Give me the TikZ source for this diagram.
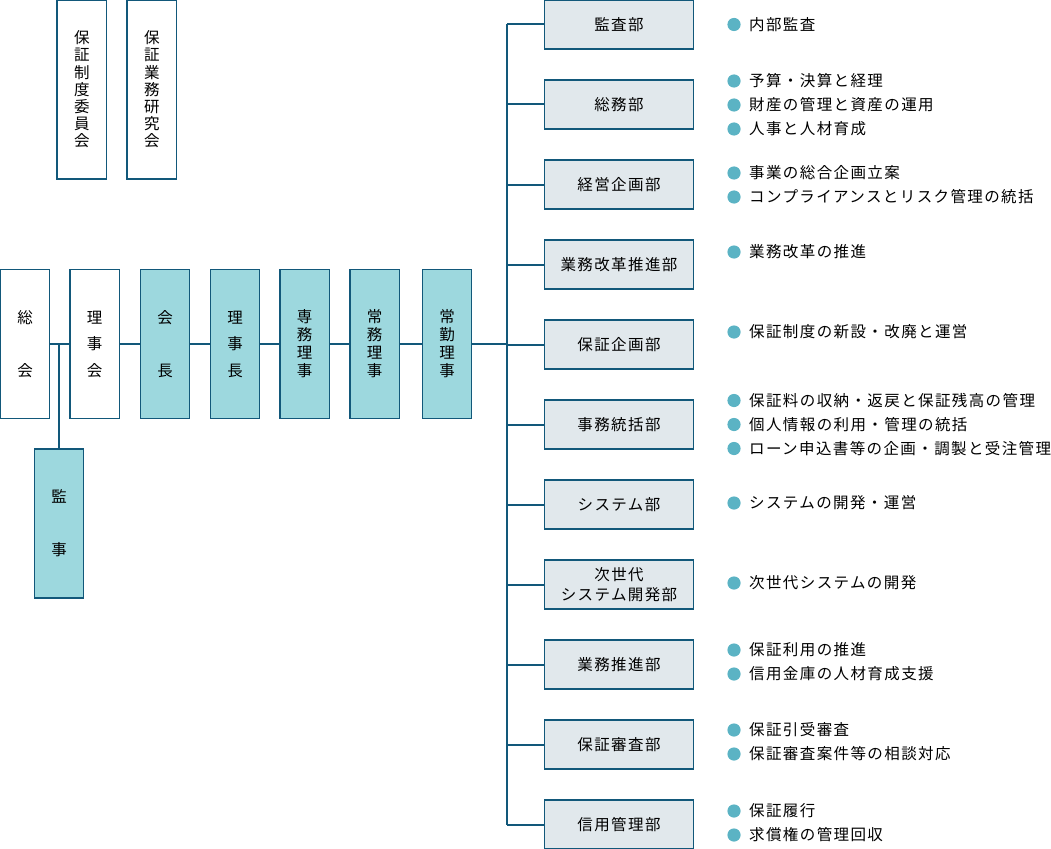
\documentclass[tikz,border=0pt]{standalone}
\usepackage{fontspec}
\setmainfont{Noto Sans CJK JP}[LetterSpace=9]
\newfontfamily\jpv{Noto Sans CJK JP}
\definecolor{edgec}{HTML}{12587A}
\definecolor{execc}{HTML}{9DD8DE}
\definecolor{deptc}{HTML}{E1E8EC}
\definecolor{dotc}{HTML}{5BB3C4}
\tikzset{
  vbox/.style={draw=edgec, line width=1.3pt, minimum width=49.5pt, minimum height=149pt, inner sep=0pt, align=center},
  wbox/.style={vbox, fill=white},
  ebox/.style={vbox, fill=execc},
  cbox/.style={vbox, fill=white, minimum height=179pt},
  dbox/.style={draw=edgec, line width=1.3pt, fill=deptc, minimum width=149pt, minimum height=49pt, inner sep=0pt, align=center, font=\fontsize{15.5}{20}\selectfont},
  conn/.style={draw=edgec, line width=2pt},
  bdot/.style={circle, fill=dotc, minimum size=13.2pt, inner sep=0pt},
  itm/.style={anchor=west, inner sep=0pt, text height=12.9pt, text depth=1.1pt, font=\fontsize{15.5}{20}\selectfont},
  ftwo/.style={font=\jpv\fontsize{15.5}{53}\selectfont},
  fthree/.style={font=\jpv\fontsize{15.5}{26.5}\selectfont},
  ffour/.style={font=\jpv\fontsize{15.5}{18}\selectfont},
  fseven/.style={font=\jpv\fontsize{15.5}{17.2}\selectfont},
}
\newcommand\bitem[3]{\node[bdot] (#1d) at (734,#2) {}; \node[itm] (#1) at (749,#2) {#3};}
\begin{document}
\begin{tikzpicture}[x=1pt,y=-1pt]
\useasboundingbox (0,0) rectangle (1051,848);

% committees
\node[cbox, fseven] (iinkai) at (81.8,89.5) {保\\証\\制\\度\\委\\員\\会};
\node[cbox, fseven] (kenkyu) at (151.8,89.5) {保\\証\\業\\務\\研\\究\\会};

% executive chain
\node[wbox, ftwo] (sokai) at (25,344) {総\\会};
\node[wbox, fthree] (rijikai) at (94.7,344) {理\\事\\会};
\node[ebox, ftwo] (kaicho) at (165,344) {会\\長};
\node[ebox, fthree] (rijicho) at (235,344) {理\\事\\長};
\node[ebox, ffour] (senmu) at (304.7,344) {専\\務\\理\\事};
\node[ebox, ffour] (jomu) at (374.7,344) {常\\務\\理\\事};
\node[ebox, ffour] (jokin) at (447,344) {常\\勤\\理\\事};
\node[ebox, ftwo] (kanji) at (59,523.5) {監\\事};

\coordinate (trk) at (507,0);

% departments
\node[dbox] (d1) at (619,24.5) {監査部};
\node[dbox] (d2) at (619,104.5) {総務部};
\node[dbox] (d3) at (619,184.5) {経営企画部};
\node[dbox] (d4) at (619,264.5) {業務改革推進部};
\node[dbox] (d5) at (619,344.5) {保証企画部};
\node[dbox] (d6) at (619,424.5) {事務統括部};
\node[dbox] (d7) at (619,504.5) {システム部};
\node[dbox] (d8) at (619,584.5) {次世代\\システム開発部};
\node[dbox] (d9) at (619,664.5) {業務推進部};
\node[dbox] (d10) at (619,744.5) {保証審査部};
\node[dbox] (d11) at (619,824.5) {信用管理部};

% connectors
\draw[conn] (sokai.east) -- (rijikai.west);
\draw[conn] (kanji.north) -- (kanji.north |- sokai.east);
\draw[conn] (rijikai.east) -- (kaicho.west);
\draw[conn] (kaicho.east) -- (rijicho.west);
\draw[conn] (rijicho.east) -- (senmu.west);
\draw[conn] (senmu.east) -- (jomu.west);
\draw[conn] (jomu.east) -- (jokin.west);
\draw[conn] (jokin.east) -- (jokin.east -| trk);
\draw[conn] (d1.west -| trk) -- (d11.west -| trk);
\foreach \d in {d1,d2,d3,d4,d5,d6,d7,d8,d9,d10,d11}
  \draw[conn] (\d.west -| trk) -- (\d.west);

% items
\bitem{a1}{24.5}{内部監査}
\bitem{b1}{81}{予算・決算と経理}
\bitem{b2}{105}{財産の管理と資産の運用}
\bitem{b3}{129}{人事と人材育成}
\bitem{c1}{173}{事業の総合企画立案}
\bitem{c2}{197}{コンプライアンスとリスク管理の統括}
\bitem{e1}{252}{業務改革の推進}
\bitem{f1}{332}{保証制度の新設・改廃と運営}
\bitem{g1}{400.5}{保証料の収納・返戻と保証残高の管理}
\bitem{g2}{424.5}{個人情報の利用・管理の統括}
\bitem{g3}{448.5}{ローン申込書等の企画・調製と受注管理}
\bitem{h1}{503}{システムの開発・運営}
\bitem{k1}{583}{次世代システムの開発}
\bitem{m1}{650}{保証利用の推進}
\bitem{m2}{674}{信用金庫の人材育成支援}
\bitem{n1}{730}{保証引受審査}
\bitem{n2}{754}{保証審査案件等の相談対応}
\bitem{p1}{811}{保証履行}
\bitem{p2}{835}{求償権の管理回収}
\end{tikzpicture}
\end{document}
